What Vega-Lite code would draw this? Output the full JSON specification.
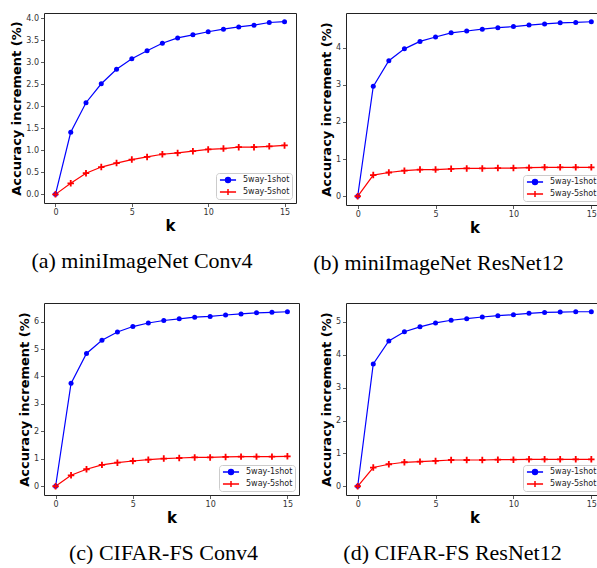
{
  "$schema": "https://vega.github.io/schema/vega-lite/v6.json",
  "background": "white",
  "padding": {"left": 10, "top": 12, "right": 0, "bottom": 0},
  "config": {
    "font": "DejaVu Sans",
    "view": {"stroke": "#222222", "strokeWidth": 1},
    "axis": {"grid": false, "domain": false, "labelFontSize": 8, "labelColor": "#333333", "tickColor": "#333333", "tickSize": 3.5, "tickWidth": 0.8, "labelPadding": 2, "titleFontSize": 13, "titleFontWeight": "bold", "titleColor": "black", "titlePadding": 2},
    "axisX": {"titleFontSize": 15, "titlePadding": 2},
    "title": {"font": "Liberation Serif", "fontSize": 22, "fontWeight": "normal", "color": "black", "orient": "bottom", "offset": 17},
    "legend": {"orient": "bottom-right", "offset": 4, "title": null, "labelFontSize": 8, "labelFontWeight": "normal", "labelColor": "#222222", "padding": 2.5, "symbolSize": 49, "symbolOffset": 5, "labelOffset": 10.5, "rowPadding": 3, "clipHeight": 9, "fillColor": "white", "strokeColor": "#cccccc", "cornerRadius": 3, "symbolStrokeWidth": 1.5}
  },
  "datasets": {
    "acc": [
      {"panel": "a", "series": "5way-1shot", "k": 0, "value": 0},
      {"panel": "a", "series": "5way-1shot", "k": 1, "value": 1.41},
      {"panel": "a", "series": "5way-1shot", "k": 2, "value": 2.08},
      {"panel": "a", "series": "5way-1shot", "k": 3, "value": 2.51},
      {"panel": "a", "series": "5way-1shot", "k": 4, "value": 2.84},
      {"panel": "a", "series": "5way-1shot", "k": 5, "value": 3.08},
      {"panel": "a", "series": "5way-1shot", "k": 6, "value": 3.26},
      {"panel": "a", "series": "5way-1shot", "k": 7, "value": 3.43},
      {"panel": "a", "series": "5way-1shot", "k": 8, "value": 3.55},
      {"panel": "a", "series": "5way-1shot", "k": 9, "value": 3.62},
      {"panel": "a", "series": "5way-1shot", "k": 10, "value": 3.69},
      {"panel": "a", "series": "5way-1shot", "k": 11, "value": 3.75},
      {"panel": "a", "series": "5way-1shot", "k": 12, "value": 3.8},
      {"panel": "a", "series": "5way-1shot", "k": 13, "value": 3.84},
      {"panel": "a", "series": "5way-1shot", "k": 14, "value": 3.9},
      {"panel": "a", "series": "5way-1shot", "k": 15, "value": 3.92},
      {"panel": "a", "series": "5way-5shot", "k": 0, "value": 0},
      {"panel": "a", "series": "5way-5shot", "k": 1, "value": 0.25},
      {"panel": "a", "series": "5way-5shot", "k": 2, "value": 0.48},
      {"panel": "a", "series": "5way-5shot", "k": 3, "value": 0.62},
      {"panel": "a", "series": "5way-5shot", "k": 4, "value": 0.71},
      {"panel": "a", "series": "5way-5shot", "k": 5, "value": 0.79},
      {"panel": "a", "series": "5way-5shot", "k": 6, "value": 0.85},
      {"panel": "a", "series": "5way-5shot", "k": 7, "value": 0.91},
      {"panel": "a", "series": "5way-5shot", "k": 8, "value": 0.94},
      {"panel": "a", "series": "5way-5shot", "k": 9, "value": 0.98},
      {"panel": "a", "series": "5way-5shot", "k": 10, "value": 1.02},
      {"panel": "a", "series": "5way-5shot", "k": 11, "value": 1.04},
      {"panel": "a", "series": "5way-5shot", "k": 12, "value": 1.07},
      {"panel": "a", "series": "5way-5shot", "k": 13, "value": 1.07},
      {"panel": "a", "series": "5way-5shot", "k": 14, "value": 1.09},
      {"panel": "a", "series": "5way-5shot", "k": 15, "value": 1.11},
      {"panel": "b", "series": "5way-1shot", "k": 0, "value": 0},
      {"panel": "b", "series": "5way-1shot", "k": 1, "value": 2.96},
      {"panel": "b", "series": "5way-1shot", "k": 2, "value": 3.65},
      {"panel": "b", "series": "5way-1shot", "k": 3, "value": 3.97},
      {"panel": "b", "series": "5way-1shot", "k": 4, "value": 4.17},
      {"panel": "b", "series": "5way-1shot", "k": 5, "value": 4.29},
      {"panel": "b", "series": "5way-1shot", "k": 6, "value": 4.4},
      {"panel": "b", "series": "5way-1shot", "k": 7, "value": 4.45},
      {"panel": "b", "series": "5way-1shot", "k": 8, "value": 4.5},
      {"panel": "b", "series": "5way-1shot", "k": 9, "value": 4.54},
      {"panel": "b", "series": "5way-1shot", "k": 10, "value": 4.57},
      {"panel": "b", "series": "5way-1shot", "k": 11, "value": 4.61},
      {"panel": "b", "series": "5way-1shot", "k": 12, "value": 4.64},
      {"panel": "b", "series": "5way-1shot", "k": 13, "value": 4.67},
      {"panel": "b", "series": "5way-1shot", "k": 14, "value": 4.68},
      {"panel": "b", "series": "5way-1shot", "k": 15, "value": 4.7},
      {"panel": "b", "series": "5way-5shot", "k": 0, "value": 0},
      {"panel": "b", "series": "5way-5shot", "k": 1, "value": 0.57},
      {"panel": "b", "series": "5way-5shot", "k": 2, "value": 0.64},
      {"panel": "b", "series": "5way-5shot", "k": 3, "value": 0.69},
      {"panel": "b", "series": "5way-5shot", "k": 4, "value": 0.72},
      {"panel": "b", "series": "5way-5shot", "k": 5, "value": 0.72},
      {"panel": "b", "series": "5way-5shot", "k": 6, "value": 0.74},
      {"panel": "b", "series": "5way-5shot", "k": 7, "value": 0.75},
      {"panel": "b", "series": "5way-5shot", "k": 8, "value": 0.75},
      {"panel": "b", "series": "5way-5shot", "k": 9, "value": 0.76},
      {"panel": "b", "series": "5way-5shot", "k": 10, "value": 0.76},
      {"panel": "b", "series": "5way-5shot", "k": 11, "value": 0.77},
      {"panel": "b", "series": "5way-5shot", "k": 12, "value": 0.78},
      {"panel": "b", "series": "5way-5shot", "k": 13, "value": 0.78},
      {"panel": "b", "series": "5way-5shot", "k": 14, "value": 0.78},
      {"panel": "b", "series": "5way-5shot", "k": 15, "value": 0.78},
      {"panel": "c", "series": "5way-1shot", "k": 0, "value": 0},
      {"panel": "c", "series": "5way-1shot", "k": 1, "value": 3.75},
      {"panel": "c", "series": "5way-1shot", "k": 2, "value": 4.84},
      {"panel": "c", "series": "5way-1shot", "k": 3, "value": 5.32},
      {"panel": "c", "series": "5way-1shot", "k": 4, "value": 5.62},
      {"panel": "c", "series": "5way-1shot", "k": 5, "value": 5.82},
      {"panel": "c", "series": "5way-1shot", "k": 6, "value": 5.95},
      {"panel": "c", "series": "5way-1shot", "k": 7, "value": 6.04},
      {"panel": "c", "series": "5way-1shot", "k": 8, "value": 6.1},
      {"panel": "c", "series": "5way-1shot", "k": 9, "value": 6.16},
      {"panel": "c", "series": "5way-1shot", "k": 10, "value": 6.19},
      {"panel": "c", "series": "5way-1shot", "k": 11, "value": 6.24},
      {"panel": "c", "series": "5way-1shot", "k": 12, "value": 6.28},
      {"panel": "c", "series": "5way-1shot", "k": 13, "value": 6.32},
      {"panel": "c", "series": "5way-1shot", "k": 14, "value": 6.34},
      {"panel": "c", "series": "5way-1shot", "k": 15, "value": 6.36},
      {"panel": "c", "series": "5way-5shot", "k": 0, "value": 0},
      {"panel": "c", "series": "5way-5shot", "k": 1, "value": 0.4},
      {"panel": "c", "series": "5way-5shot", "k": 2, "value": 0.62},
      {"panel": "c", "series": "5way-5shot", "k": 3, "value": 0.78},
      {"panel": "c", "series": "5way-5shot", "k": 4, "value": 0.86},
      {"panel": "c", "series": "5way-5shot", "k": 5, "value": 0.92},
      {"panel": "c", "series": "5way-5shot", "k": 6, "value": 0.97},
      {"panel": "c", "series": "5way-5shot", "k": 7, "value": 1.01},
      {"panel": "c", "series": "5way-5shot", "k": 8, "value": 1.03},
      {"panel": "c", "series": "5way-5shot", "k": 9, "value": 1.05},
      {"panel": "c", "series": "5way-5shot", "k": 10, "value": 1.05},
      {"panel": "c", "series": "5way-5shot", "k": 11, "value": 1.07},
      {"panel": "c", "series": "5way-5shot", "k": 12, "value": 1.08},
      {"panel": "c", "series": "5way-5shot", "k": 13, "value": 1.08},
      {"panel": "c", "series": "5way-5shot", "k": 14, "value": 1.08},
      {"panel": "c", "series": "5way-5shot", "k": 15, "value": 1.09},
      {"panel": "d", "series": "5way-1shot", "k": 0, "value": 0},
      {"panel": "d", "series": "5way-1shot", "k": 1, "value": 3.72},
      {"panel": "d", "series": "5way-1shot", "k": 2, "value": 4.42},
      {"panel": "d", "series": "5way-1shot", "k": 3, "value": 4.7},
      {"panel": "d", "series": "5way-1shot", "k": 4, "value": 4.85},
      {"panel": "d", "series": "5way-1shot", "k": 5, "value": 4.97},
      {"panel": "d", "series": "5way-1shot", "k": 6, "value": 5.05},
      {"panel": "d", "series": "5way-1shot", "k": 7, "value": 5.1},
      {"panel": "d", "series": "5way-1shot", "k": 8, "value": 5.15},
      {"panel": "d", "series": "5way-1shot", "k": 9, "value": 5.19},
      {"panel": "d", "series": "5way-1shot", "k": 10, "value": 5.22},
      {"panel": "d", "series": "5way-1shot", "k": 11, "value": 5.26},
      {"panel": "d", "series": "5way-1shot", "k": 12, "value": 5.29},
      {"panel": "d", "series": "5way-1shot", "k": 13, "value": 5.3},
      {"panel": "d", "series": "5way-1shot", "k": 14, "value": 5.31},
      {"panel": "d", "series": "5way-1shot", "k": 15, "value": 5.31},
      {"panel": "d", "series": "5way-5shot", "k": 0, "value": 0},
      {"panel": "d", "series": "5way-5shot", "k": 1, "value": 0.57},
      {"panel": "d", "series": "5way-5shot", "k": 2, "value": 0.67},
      {"panel": "d", "series": "5way-5shot", "k": 3, "value": 0.73},
      {"panel": "d", "series": "5way-5shot", "k": 4, "value": 0.75},
      {"panel": "d", "series": "5way-5shot", "k": 5, "value": 0.77},
      {"panel": "d", "series": "5way-5shot", "k": 6, "value": 0.8},
      {"panel": "d", "series": "5way-5shot", "k": 7, "value": 0.8},
      {"panel": "d", "series": "5way-5shot", "k": 8, "value": 0.8},
      {"panel": "d", "series": "5way-5shot", "k": 9, "value": 0.81},
      {"panel": "d", "series": "5way-5shot", "k": 10, "value": 0.81},
      {"panel": "d", "series": "5way-5shot", "k": 11, "value": 0.82},
      {"panel": "d", "series": "5way-5shot", "k": 12, "value": 0.82},
      {"panel": "d", "series": "5way-5shot", "k": 13, "value": 0.82},
      {"panel": "d", "series": "5way-5shot", "k": 14, "value": 0.82},
      {"panel": "d", "series": "5way-5shot", "k": 15, "value": 0.82}
    ]
  },
  "resolve": {"scale": {"color": "independent"}, "legend": {"color": "independent"}},
  "columns": 2,
  "align": "none",
  "bounds": "flush",
  "spacing": {"row": 98, "column": 47},
  "concat": [
    {
      "width": 252, "height": 190,
      "title": {"text": "(a) miniImageNet Conv4", "dx": -28},
      "data": {"name": "acc"},
      "transform": [{"filter": "datum.panel === 'a'"}],
      "encoding": {
        "x": {"field": "k", "type": "quantitative", "scale": {"domain": [-0.75, 15.75], "nice": false, "zero": false}, "axis": {"values": [0, 5, 10, 15], "title": "k"}},
        "y": {"field": "value", "type": "quantitative", "scale": {"domain": [-0.196, 4.116], "nice": false, "zero": false}, "axis": {"values": [0, 0.5, 1, 1.5, 2, 2.5, 3, 3.5, 4], "format": ".1f", "title": "Accuracy increment (%)"}}
      },
      "layer": [
        {"mark": {"type": "line", "strokeWidth": 1.2}, "encoding": {"color": {"field": "series", "type": "nominal", "scale": {"domain": ["5way-1shot", "5way-5shot"], "range": ["#0000ff", "#ff0000"]}, "legend": {"encode": {"symbols": {"update": {"shape": {"signal": "datum.value === '5way-1shot' ? 'M-2.3,0H2.3M-0.7,0A0.7,0.7 0 1,1 0.7,0A0.7,0.7 0 1,1 -0.7,0Z' : 'M-2.3,0H2.3M0,-0.85V0.85'"}, "fill": {"signal": "datum.value === '5way-1shot' ? '#0000ff' : '#ff0000'"}}}}}}}},
        {"transform": [{"filter": "datum.series === '5way-1shot'"}], "mark": {"type": "point", "filled": true, "size": 25, "opacity": 1, "shape": "circle", "color": "#0000ff"}},
        {"transform": [{"filter": "datum.series === '5way-5shot'"}], "mark": {"type": "point", "filled": true, "size": 42, "opacity": 1, "shape": "M-1,-0.28H-0.28V-1H0.28V-0.28H1V0.28H0.28V1H-0.28V0.28H-1Z", "color": "#ff0000"}}
      ]
    },
    {
      "width": 257, "height": 192,
      "title": {"text": "(b) miniImageNet ResNet12", "dx": -36},
      "data": {"name": "acc"},
      "transform": [{"filter": "datum.panel === 'b'"}],
      "encoding": {
        "x": {"field": "k", "type": "quantitative", "scale": {"domain": [-0.75, 15.75], "nice": false, "zero": false}, "axis": {"values": [0, 5, 10, 15], "title": "k"}},
        "y": {"field": "value", "type": "quantitative", "scale": {"domain": [-0.235, 4.935], "nice": false, "zero": false}, "axis": {"values": [0, 1, 2, 3, 4], "title": "Accuracy increment (%)"}}
      },
      "layer": [
        {"mark": {"type": "line", "strokeWidth": 1.2}, "encoding": {"color": {"field": "series", "type": "nominal", "scale": {"domain": ["5way-1shot", "5way-5shot"], "range": ["#0000ff", "#ff0000"]}, "legend": {"encode": {"symbols": {"update": {"shape": {"signal": "datum.value === '5way-1shot' ? 'M-2.3,0H2.3M-0.7,0A0.7,0.7 0 1,1 0.7,0A0.7,0.7 0 1,1 -0.7,0Z' : 'M-2.3,0H2.3M0,-0.85V0.85'"}, "fill": {"signal": "datum.value === '5way-1shot' ? '#0000ff' : '#ff0000'"}}}}}}}},
        {"transform": [{"filter": "datum.series === '5way-1shot'"}], "mark": {"type": "point", "filled": true, "size": 25, "opacity": 1, "shape": "circle", "color": "#0000ff"}},
        {"transform": [{"filter": "datum.series === '5way-5shot'"}], "mark": {"type": "point", "filled": true, "size": 42, "opacity": 1, "shape": "M-1,-0.28H-0.28V-1H0.28V-0.28H1V0.28H0.28V1H-0.28V0.28H-1Z", "color": "#ff0000"}}
      ]
    },
    {
      "width": 255, "height": 192,
      "title": {"text": "(c) CIFAR-FS Conv4", "dx": -8},
      "data": {"name": "acc"},
      "transform": [{"filter": "datum.panel === 'c'"}],
      "encoding": {
        "x": {"field": "k", "type": "quantitative", "scale": {"domain": [-0.75, 15.75], "nice": false, "zero": false}, "axis": {"values": [0, 5, 10, 15], "title": "k"}},
        "y": {"field": "value", "type": "quantitative", "scale": {"domain": [-0.318, 6.678], "nice": false, "zero": false}, "axis": {"values": [0, 1, 2, 3, 4, 5, 6], "title": "Accuracy increment (%)"}}
      },
      "layer": [
        {"mark": {"type": "line", "strokeWidth": 1.2}, "encoding": {"color": {"field": "series", "type": "nominal", "scale": {"domain": ["5way-1shot", "5way-5shot"], "range": ["#0000ff", "#ff0000"]}, "legend": {"encode": {"symbols": {"update": {"shape": {"signal": "datum.value === '5way-1shot' ? 'M-2.3,0H2.3M-0.7,0A0.7,0.7 0 1,1 0.7,0A0.7,0.7 0 1,1 -0.7,0Z' : 'M-2.3,0H2.3M0,-0.85V0.85'"}, "fill": {"signal": "datum.value === '5way-1shot' ? '#0000ff' : '#ff0000'"}}}}}}}},
        {"transform": [{"filter": "datum.series === '5way-1shot'"}], "mark": {"type": "point", "filled": true, "size": 25, "opacity": 1, "shape": "circle", "color": "#0000ff"}},
        {"transform": [{"filter": "datum.series === '5way-5shot'"}], "mark": {"type": "point", "filled": true, "size": 42, "opacity": 1, "shape": "M-1,-0.28H-0.28V-1H0.28V-0.28H1V0.28H0.28V1H-0.28V0.28H-1Z", "color": "#ff0000"}}
      ]
    },
    {
      "width": 257, "height": 192,
      "title": {"text": "(d) CIFAR-FS ResNet12", "dx": -22},
      "data": {"name": "acc"},
      "transform": [{"filter": "datum.panel === 'd'"}],
      "encoding": {
        "x": {"field": "k", "type": "quantitative", "scale": {"domain": [-0.75, 15.75], "nice": false, "zero": false}, "axis": {"values": [0, 5, 10, 15], "title": "k"}},
        "y": {"field": "value", "type": "quantitative", "scale": {"domain": [-0.2655, 5.5755], "nice": false, "zero": false}, "axis": {"values": [0, 1, 2, 3, 4, 5], "title": "Accuracy increment (%)"}}
      },
      "layer": [
        {"mark": {"type": "line", "strokeWidth": 1.2}, "encoding": {"color": {"field": "series", "type": "nominal", "scale": {"domain": ["5way-1shot", "5way-5shot"], "range": ["#0000ff", "#ff0000"]}, "legend": {"encode": {"symbols": {"update": {"shape": {"signal": "datum.value === '5way-1shot' ? 'M-2.3,0H2.3M-0.7,0A0.7,0.7 0 1,1 0.7,0A0.7,0.7 0 1,1 -0.7,0Z' : 'M-2.3,0H2.3M0,-0.85V0.85'"}, "fill": {"signal": "datum.value === '5way-1shot' ? '#0000ff' : '#ff0000'"}}}}}}}},
        {"transform": [{"filter": "datum.series === '5way-1shot'"}], "mark": {"type": "point", "filled": true, "size": 25, "opacity": 1, "shape": "circle", "color": "#0000ff"}},
        {"transform": [{"filter": "datum.series === '5way-5shot'"}], "mark": {"type": "point", "filled": true, "size": 42, "opacity": 1, "shape": "M-1,-0.28H-0.28V-1H0.28V-0.28H1V0.28H0.28V1H-0.28V0.28H-1Z", "color": "#ff0000"}}
      ]
    }
  ]
}
